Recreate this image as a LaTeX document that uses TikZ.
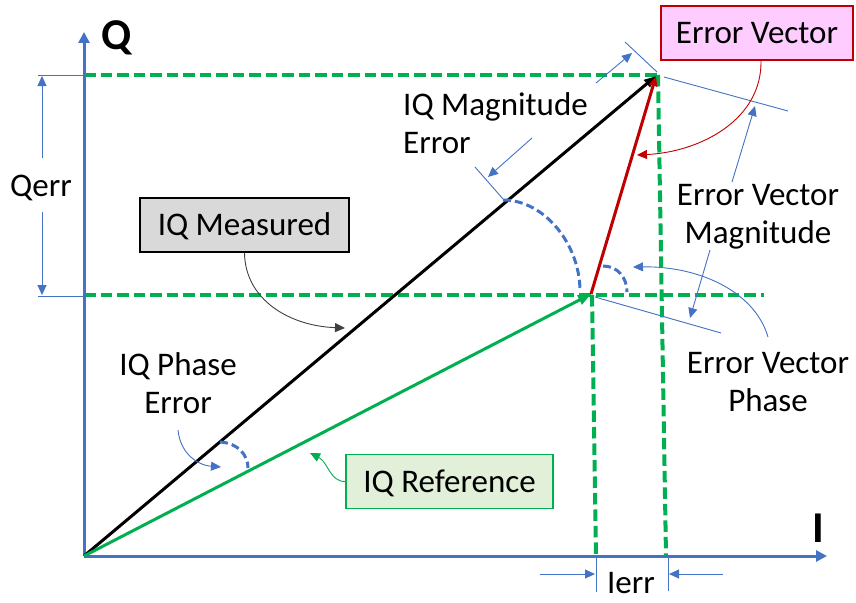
\documentclass[tikz,border=0pt]{standalone}
\usepackage{fontspec}
\setmainfont{Carlito}
\usetikzlibrary{arrows.meta}
\definecolor{axblue}{HTML}{4472C4}
\definecolor{dgreen}{HTML}{00B050}
\definecolor{dred}{HTML}{C00000}
\definecolor{pinkf}{HTML}{FFCCFF}
\definecolor{greenf}{HTML}{E2F0D9}
\definecolor{grayf}{HTML}{D9D9D9}
\definecolor{dgray}{HTML}{404040}
\begin{document}
\begin{tikzpicture}[x=1pt,y=-1pt,
 txt/.style={font=\fontsize{33}{38}\selectfont, inner sep=0pt},
 axislbl/.style={font=\bfseries\fontsize{44}{44}\selectfont, inner sep=0pt},
 lblbox/.style={txt, draw, line width=1.4pt, text height=21.3pt, text depth=0pt, minimum height=54pt},
 axis/.style={axblue, line width=3pt, -{Triangle[length=11pt,width=11pt]}},
 guide/.style={dgreen, line width=4pt, dash pattern=on 11.5pt off 5pt},
 vec/.style={line width=3pt},
 thinl/.style={axblue, line width=0.9pt},
 thinarrow/.style={thinl, -{Triangle[length=10pt,width=9pt]}},
 arcd/.style={axblue, line width=3pt, dash pattern=on 8pt off 4pt},
]
\useasboundingbox (0,0) rectangle (856,602);

\coordinate (O) at (84,556);
\coordinate (M) at (656,76);
\coordinate (R) at (591,294);
\coordinate (qtip) at (84,32);
\coordinate (itip) at (827,556);

% guides
\coordinate (gt0) at (84,75);
\coordinate (gt1) at (658,75);
\coordinate (gb0) at (84,295);
\coordinate (gb1) at (764,295);
\coordinate (gv1b) at (666,556);
\coordinate (gv2t) at (592,295);
\coordinate (gv2b) at (596,556);
\draw[guide] (gt0) -- (gt1);
\draw[guide] (gb0) -- (gb1);
\draw[guide] (gt1) -- (gv1b);
\draw[guide] (gv2t) -- (gv2b);

% axes
\draw[axis] (O) -- (qtip);
\draw[axis] (O) -- (itip);
\node[axislbl, anchor=base] (qlbl) at (117,49) {Q};
\node[axislbl, anchor=base] (ilbl) at (818,542) {I};

% vectors
\draw[vec, black, -{Triangle[length=12pt,width=9pt]}] (O) -- (M);
\draw[vec, dgreen, -{Triangle[length=13pt,width=10pt]}] (O) -- (R);
\draw[vec, dred, -{Triangle[length=10pt,width=8pt]}] (R) -- (M);

% dashed arcs
\coordinate (ma0) at (503,200);
\coordinate (ma1) at (580,291);
\draw[arcd] (ma0) .. controls (545,200) and (580,245) .. (ma1);
\coordinate (pa0) at (603,266);
\coordinate (pa1) at (627,292);
\draw[arcd] (pa0) .. controls (618,266) and (627,278) .. (pa1);
\coordinate (qa0) at (220,442);
\coordinate (qa1) at (248,468);
\draw[arcd] (qa0) .. controls (238,443) and (248,455) .. (qa1);

% IQ magnitude error markers
\coordinate (mt1a) at (625,42);
\coordinate (mt1b) at (657,72);
\draw[thinl] (mt1a) -- (mt1b);
\coordinate (mA1a) at (596,83);
\coordinate (mA1b) at (632,53);
\draw[thinarrow] (mA1a) -- (mA1b);
\coordinate (mt2a) at (475,167);
\coordinate (mt2b) at (503,199);
\draw[thinl] (mt2a) -- (mt2b);
\coordinate (mA2a) at (532,138);
\coordinate (mA2b) at (488,177);
\draw[thinarrow] (mA2a) -- (mA2b);

% error vector magnitude markers
\coordinate (e1a) at (664,77);
\coordinate (e1b) at (788,111);
\draw[thinl] (e1a) -- (e1b);
\coordinate (eA1a) at (732,182);
\coordinate (eA1b) at (755,106);
\draw[thinarrow] (eA1a) -- (eA1b);
\coordinate (e2a) at (595,297);
\coordinate (e2b) at (721,333);
\draw[thinl] (e2a) -- (e2b);
\coordinate (eA2a) at (710,250);
\coordinate (eA2b) at (690,318);
\draw[thinarrow] (eA2a) -- (eA2b);

% error vector phase arrow
\coordinate (epa) at (768,337);
\coordinate (epb) at (633,267);
\draw[thinarrow] (epa) .. controls (755,292) and (700,266) .. (epb);

% IQ phase error arrow
\coordinate (ipa) at (178,430);
\coordinate (ipb) at (221,467);
\draw[thinarrow] (ipa) .. controls (180,452) and (196,465) .. (ipb);

% Qerr
\coordinate (qe1a) at (38,75);
\coordinate (qe1b) at (84,75);
\coordinate (qe2a) at (38,296);
\coordinate (qe2b) at (84,296);
\draw[thinl] (qe1a) -- (qe1b);
\draw[thinl] (qe2a) -- (qe2b);
\coordinate (qA1a) at (42,158);
\coordinate (qA1b) at (42,76);
\coordinate (qA2a) at (42,212);
\coordinate (qA2b) at (42,295);
\draw[thinarrow] (qA1a) -- (qA1b);
\draw[thinarrow] (qA2a) -- (qA2b);
\node[txt, anchor=base] (qerr) at (41,196) {Qerr};

% Ierr
\coordinate (ie1a) at (596,556);
\coordinate (ie1b) at (596,592);
\coordinate (ie2a) at (668,556);
\coordinate (ie2b) at (668,591);
\draw[thinl] (ie1a) -- (ie1b);
\draw[thinl] (ie2a) -- (ie2b);
\coordinate (iA1a) at (540,574);
\coordinate (iA1b) at (595,574);
\coordinate (iA2a) at (723,574);
\coordinate (iA2b) at (669,574);
\draw[thinarrow] (iA1a) -- (iA1b);
\draw[thinarrow] (iA2a) -- (iA2b);
\node[txt, anchor=base] (ierr) at (631,593) {Ierr};

% labelled boxes
\node[lblbox, fill=grayf, minimum width=209pt] (meas) at (244.5,225) {IQ Measured};
\node[lblbox, draw=dgreen, fill=greenf, minimum width=207pt] (ref) at (449.5,481.5) {IQ Reference};
\node[lblbox, draw=dred, fill=pinkf, minimum width=192pt] (errv) at (757,33) {Error Vector};

\coordinate (measTip) at (345,328);
\draw[dgray, line width=0.9pt, -{Triangle[length=10pt,width=9pt]}] (meas.south) .. controls (245,300) and (290,326) .. (measTip);
\coordinate (refTip) at (310,453);
\draw[dgreen, line width=0.9pt, -{Triangle[length=10pt,width=9pt]}] (ref.west) .. controls (330,482) and (328,462) .. (refTip);
\coordinate (errTip) at (637,155);
\draw[dred, line width=0.9pt, -{Triangle[length=10pt,width=9pt]}] ([xshift=4pt]errv.south) .. controls (762,120) and (700,152) .. (errTip);

% text labels
\node[txt, anchor=base west] (magerr) at (403,115) {\begin{tabular}[t]{@{}l@{}}IQ Magnitude\\Error\end{tabular}};
\node[txt, anchor=base] (evm) at (758,205) {\begin{tabular}[t]{@{}c@{}}Error Vector\\Magnitude\end{tabular}};
\node[txt, anchor=base] (evp) at (768,373) {\begin{tabular}[t]{@{}c@{}}Error Vector\\Phase\end{tabular}};
\node[txt, anchor=base] (phaseerr) at (178,375) {\begin{tabular}[t]{@{}c@{}}IQ Phase\\Error\end{tabular}};
\end{tikzpicture}
\end{document}
